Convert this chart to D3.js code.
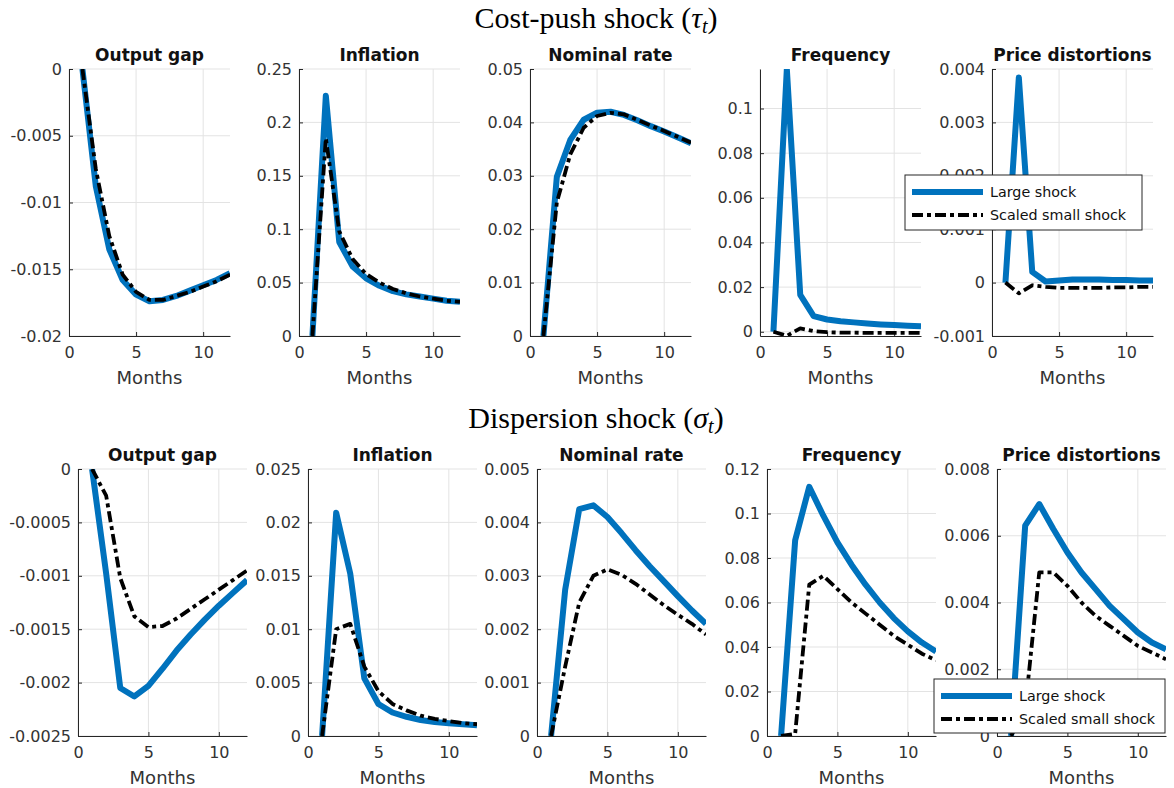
<!DOCTYPE html>
<html><head><meta charset="utf-8">
<script src="https://cdn.jsdelivr.net/npm/d3@7"></script>
<style>
body{margin:0;background:#fff;}
svg{display:block;}
</style></head>
<body>
<svg id="chart" width="1174" height="788"></svg>
<script>
const months = [1,2,3,4,5,6,7,8,9,10,11,12];
const xTicks = [0,5,10];
const seriesNames = ["Large shock","Scaled small shock"];
const rowTitles = ["Cost-push shock (", "Dispersion shock ("];
const rowSymbols = ["\u03C4","\u03C3"];
const panelTitles = ["Output gap","Inflation","Nominal rate","Frequency","Price distortions"];

// Cost-push shock
const cpOutputLarge = [0,-0.0088,-0.0135,-0.0158,-0.0169,-0.0174,-0.0173,-0.0170,-0.0166,-0.0162,-0.0158,-0.0153];
const cpOutputSmall = [0,-0.0075,-0.0125,-0.0154,-0.0167,-0.0173,-0.0173,-0.0170,-0.0167,-0.0163,-0.0159,-0.0154];
const cpInflLarge = [0,0.225,0.088,0.065,0.054,0.047,0.042,0.039,0.037,0.035,0.033,0.032];
const cpInflSmall = [0,0.185,0.098,0.072,0.058,0.050,0.044,0.040,0.037,0.035,0.033,0.032];
const cpRateLarge = [0,0.0298,0.0367,0.0405,0.0418,0.0420,0.0414,0.0404,0.0393,0.0383,0.0372,0.0361];
const cpRateSmall = [0,0.0250,0.0340,0.0390,0.0412,0.0418,0.0415,0.0405,0.0394,0.0384,0.0373,0.0362];
const cpFreqLarge = [0,0.1177,0.0165,0.0070,0.0055,0.0047,0.0042,0.0037,0.0033,0.0030,0.0027,0.0025];
const cpFreqSmall = [0,-0.0018,0.0015,0.0003,-0.0002,-0.0004,-0.0004,-0.0005,-0.0005,-0.0005,-0.0005,-0.0005];
const cpDistLarge = [0,0.00384,0.00020,0.00002,0.00004,0.00006,0.00006,0.00006,0.00005,0.00005,0.00004,0.00004];
const cpDistSmall = [0,-0.00020,-0.00005,-0.00008,-0.00010,-0.00010,-0.00010,-0.00010,-0.00009,-0.00009,-0.00008,-0.00008];

// Dispersion shock
const dsOutputLarge = [0,-0.00098,-0.00205,-0.00213,-0.00203,-0.00187,-0.00170,-0.00155,-0.00141,-0.00128,-0.00116,-0.00104];
const dsOutputSmall = [0,-0.00025,-0.00102,-0.00138,-0.00148,-0.00147,-0.00140,-0.00131,-0.00122,-0.00113,-0.00104,-0.00095];
const dsInflLarge = [0,0.0209,0.0152,0.0054,0.0030,0.0022,0.0018,0.0015,0.0013,0.0012,0.0011,0.0010];
const dsInflSmall = [0,0.0100,0.0105,0.0065,0.0042,0.0030,0.0024,0.0019,0.0016,0.0014,0.0012,0.0011];
const dsRateLarge = [0,0.00274,0.00425,0.00432,0.00410,0.00380,0.00348,0.00318,0.00290,0.00262,0.00235,0.00210];
const dsRateSmall = [0,0.00130,0.00250,0.00300,0.00312,0.00302,0.00285,0.00265,0.00245,0.00227,0.00210,0.00190];
const dsFreqLarge = [0,0.088,0.112,0.099,0.087,0.077,0.068,0.060,0.053,0.047,0.042,0.038];
const dsFreqSmall = [0,0.001,0.068,0.072,0.066,0.060,0.055,0.050,0.045,0.041,0.037,0.034];
const dsDistLarge = [0,0.0063,0.00695,0.0062,0.0055,0.0049,0.0044,0.0039,0.0035,0.0031,0.0028,0.0026];
const dsDistSmall = [0,0.0008,0.0049,0.0049,0.0045,0.0040,0.0036,0.0033,0.0030,0.0027,0.0025,0.0023];

// y-axis domains and ticks
const cpDomains = [[-0.02,0],[0,0.25],[0,0.05],[-0.0019,0.1177],[-0.001,0.004]];
const cpTicks = [
  [0,-0.005,-0.01,-0.015,-0.02],
  [0,0.05,0.1,0.15,0.2,0.25],
  [0,0.01,0.02,0.03,0.04,0.05],
  [0,0.02,0.04,0.06,0.08,0.1],
  [-0.001,0,0.001,0.002,0.003,0.004]];
const dsDomains = [[-0.0025,0],[0,0.025],[0,0.005],[0,0.12],[0,0.008]];
const dsTicks = [
  [0,-0.0005,-0.001,-0.0015,-0.002,-0.0025],
  [0,0.005,0.01,0.015,0.02,0.025],
  [0,0.001,0.002,0.003,0.004,0.005],
  [0,0.02,0.04,0.06,0.08,0.1,0.12],
  [0,0.002,0.004,0.006,0.008]];

const rows = [
  {large:[cpOutputLarge,cpInflLarge,cpRateLarge,cpFreqLarge,cpDistLarge],
   small:[cpOutputSmall,cpInflSmall,cpRateSmall,cpFreqSmall,cpDistSmall],
   domains:cpDomains, ticks:cpTicks,
   lefts:[69,299,530,760,992], width:161, top:69, bottom:336, titleY:28, ptitleY:61,
   legend:{x:905,y:175,w:237,h:55}},
  {large:[dsOutputLarge,dsInflLarge,dsRateLarge,dsFreqLarge,dsDistLarge],
   small:[dsOutputSmall,dsInflSmall,dsRateSmall,dsFreqSmall,dsDistSmall],
   domains:dsDomains, ticks:dsTicks,
   lefts:[78,308,537,767,997], width:169, top:469, bottom:736, titleY:428, ptitleY:461,
   legend:{x:934,y:679,w:231,h:54}}
];

const blue = "#0072BD";
const axisCol = "#262626";
const sans = "'DejaVu Sans',Verdana,sans-serif";
const svg = d3.select("#chart");
const defs = svg.append("defs");
const fmt = v => (v===0 ? "0" : String(+v.toPrecision(6)));

rows.forEach((row, ri) => {
  // Row title
  const t = svg.append("text").attr("x", 596).attr("y", row.titleY)
    .attr("text-anchor","middle").attr("font-family","'Liberation Serif','Times New Roman',serif")
    .attr("font-size", 30).attr("fill","#000");
  t.append("tspan").text(rowTitles[ri]);
  t.append("tspan").attr("font-style","italic").text(rowSymbols[ri]);
  t.append("tspan").attr("font-style","italic").attr("font-size",20).attr("dy",5).text("t");
  t.append("tspan").attr("dy",-5).text(")");

  row.lefts.forEach((left, pi) => {
    const x = d3.scaleLinear().domain([0,12]).range([left, left+row.width]);
    const y = d3.scaleLinear().domain(row.domains[pi]).range([row.bottom, row.top]);
    const g = svg.append("g");
    const clipId = `clip-${ri}-${pi}`;
    defs.append("clipPath").attr("id",clipId).append("rect")
      .attr("x",left).attr("y",row.top).attr("width",row.width).attr("height",row.bottom-row.top);

    // grid
    g.selectAll(".vg").data(xTicks).join("line")
      .attr("x1",d=>x(d)).attr("x2",d=>x(d)).attr("y1",row.top).attr("y2",row.bottom)
      .attr("stroke","#e3e3e3").attr("stroke-width",1);
    g.selectAll(".hg").data(row.ticks[pi]).join("line")
      .attr("x1",left).attr("x2",left+row.width).attr("y1",d=>y(d)).attr("y2",d=>y(d))
      .attr("stroke","#e3e3e3").attr("stroke-width",1);

    // axes
    const ya = d3.axisLeft(y).tickValues(row.ticks[pi]).tickFormat(fmt).tickSizeInner(-4).tickSizeOuter(0).tickPadding(7);
    const xa = d3.axisBottom(x).tickValues(xTicks).tickFormat(d3.format("d")).tickSizeInner(-4).tickSizeOuter(0).tickPadding(8);
    const yg = g.append("g").attr("transform",`translate(${left},0)`).call(ya);
    const xg = g.append("g").attr("transform",`translate(0,${row.bottom})`).call(xa);
    [yg,xg].forEach(a=>{
      a.select(".domain").attr("stroke",axisCol).attr("stroke-width",1);
      a.selectAll(".tick line").attr("stroke",axisCol);
      a.selectAll(".tick text").attr("fill","#333").attr("font-family",sans).attr("font-size",16);
    });
    xg.selectAll(".tick text").attr("dy","0.85em");

    // x label
    g.append("text").attr("x",left+row.width/2).attr("y",row.bottom+48).attr("text-anchor","middle")
      .attr("font-family",sans).attr("font-size",18).attr("fill","#333").text("Months");
    // title
    g.append("text").attr("x",left+row.width/2).attr("y",row.ptitleY).attr("text-anchor","middle")
      .attr("font-family",sans).attr("font-weight","bold").attr("font-size",17).attr("fill","#111").text(panelTitles[pi]);

    const line = d3.line().x((d,i)=>x(months[i])).y(d=>y(d));
    const lg = g.append("g").attr("clip-path",`url(#${clipId})`);
    lg.append("path").datum(row.large[pi]).attr("d",line).attr("fill","none")
      .attr("stroke",blue).attr("stroke-width",6).attr("stroke-linejoin","round");
    lg.append("path").datum(row.small[pi]).attr("d",line).attr("fill","none")
      .attr("stroke","#000").attr("stroke-width",3.8).attr("stroke-dasharray","11,4,4,4").attr("stroke-linejoin","round");
  });

  // legend
  const L = row.legend;
  const lg = svg.append("g");
  lg.append("rect").attr("x",L.x).attr("y",L.y).attr("width",L.w).attr("height",L.h)
    .attr("fill","#fff").attr("stroke","#262626").attr("stroke-width",1);
  const ey = [L.y+17, L.y+40];
  lg.append("line").attr("x1",L.x+7).attr("x2",L.x+78).attr("y1",ey[0]).attr("y2",ey[0])
    .attr("stroke",blue).attr("stroke-width",6);
  lg.append("line").attr("x1",L.x+7).attr("x2",L.x+78).attr("y1",ey[1]).attr("y2",ey[1])
    .attr("stroke","#000").attr("stroke-width",3.8).attr("stroke-dasharray","11,4,4,4");
  seriesNames.forEach((n,i)=>{
    lg.append("text").attr("x",L.x+85).attr("y",ey[i]).attr("dy","0.35em")
      .attr("font-family",sans).attr("font-size",14.3).attr("fill","#111").text(n);
  });
});
</script>
</body></html>
